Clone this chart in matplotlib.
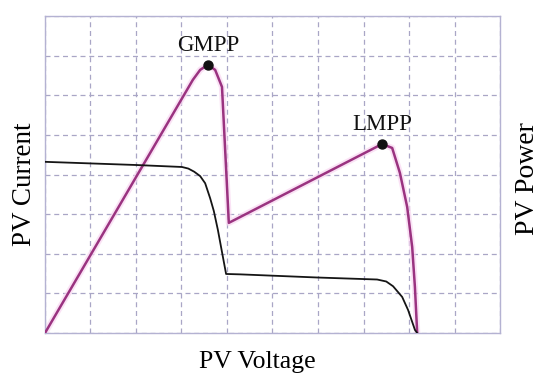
import numpy as np
import matplotlib
matplotlib.use('Agg')
from matplotlib import pyplot as plt

# PV power curve (arbitrary units, x: 0-10, y: 0-8)
power_v = [0.0, 3.25, 3.41, 3.58, 3.74, 3.89, 4.04, 7.41, 7.63, 7.80, 7.96, 8.07, 8.13, 8.18]
power_p = [0.0, 6.39, 6.64, 6.77, 6.64, 6.21, 2.78, 4.77, 4.67, 4.04, 3.18, 2.17, 1.16, 0.0]

# PV current curve
current_v = [0.0, 2.0, 3.01, 3.15, 3.28, 3.41, 3.52, 3.63, 3.71, 3.80, 3.91, 3.98, 4.29,
             6.0, 7.30, 7.50, 7.65, 7.85, 7.98, 8.13, 8.18]
current_i = [4.32, 4.24, 4.19, 4.15, 4.07, 3.96, 3.78, 3.40, 3.08, 2.60, 1.92, 1.49, 1.48,
             1.40, 1.35, 1.30, 1.18, 0.91, 0.58, 0.08, 0.0]

# maximum power points
mpp_names = ['GMPP', 'LMPP']
mpp_v = [3.58, 7.41]
mpp_p = [6.77, 4.77]

plt.rcParams['font.family'] = ['Liberation Serif', 'DejaVu Serif']

fig = plt.figure(figsize=(5.5, 3.84), dpi=100)
ax = fig.add_axes([0.0818, 0.1328, 0.8273, 0.8255])

ax.set_xlim(0, 10)
ax.set_ylim(0, 8)
ax.set_xticks(np.arange(0, 11, 1))
ax.set_yticks(np.arange(0, 9, 1))
ax.tick_params(length=0, labelbottom=False, labelleft=False)
ax.grid(True, color='#a9a6c6', linestyle=(0, (4, 3)), linewidth=0.9)
for s in ax.spines.values():
    s.set_color('#b4b2d2')
    s.set_linewidth(1.0)

ax.plot(power_v, power_p, color='#f9d6f1', lw=4.5, alpha=0.7, zorder=2)
ax.plot(power_v, power_p, color='#9a3380', lw=1.8, zorder=3)
ax.plot(current_v, current_i, color='#151515', lw=1.3, zorder=3)

ax.scatter(mpp_v, mpp_p, s=42, color='#111111', zorder=4)
for name, v, p in zip(mpp_names, mpp_v, mpp_p):
    ax.text(v, p + 0.22, name, ha='center', va='bottom', fontsize=16.5, color='#111111')

ax.set_xlabel('PV Voltage', fontsize=18.5)
ax.xaxis.set_label_coords(0.466, -0.058)
ax.set_ylabel('PV Current', fontsize=19.5)
ax.yaxis.set_label_coords(-0.017, 0.47)
fig.text(0.96, 0.534, 'PV Power', rotation=90, ha='center', va='center', fontsize=20)

fig.savefig('out.png', dpi=100)
